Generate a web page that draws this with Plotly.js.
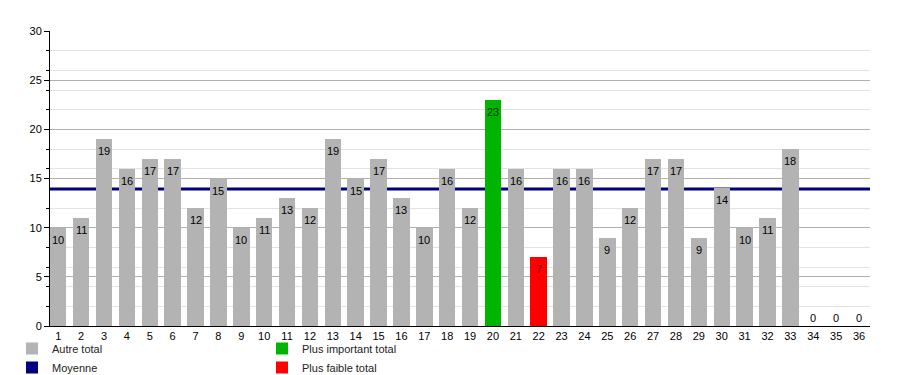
<!DOCTYPE html>
<html>
<head>
<meta charset="utf-8">
<script src="https://cdn.plot.ly/plotly-3.0.1.min.js"></script>
<style>html,body{margin:0;padding:0;background:#fff;}#chart{width:900px;height:375px;}</style>
</head>
<body>
<div id="chart"></div>
<script>
// Data
const categories = [1,2,3,4,5,6,7,8,9,10,11,12,13,14,15,16,17,18,19,20,21,22,23,24,25,26,27,28,29,30,31,32,33,34,35,36];
const totals = [10,11,19,16,17,17,12,15,10,11,13,12,19,15,17,13,10,16,12,23,16,7,16,16,9,12,17,17,9,14,10,11,18,0,0,0];
const highestCategory = [20];
const highestValue = [23];
const lowestCategory = [22];
const lowestValue = [7];
const averageValue = 13.94;
const yTickVals = [0,5,10,15,20,25,30];
const yMinorGridVals = [2,4,6,8,12,16,18,22,24,26,28];
const seriesNames = ["Autre total", "Plus important total", "Moyenne", "Plus faible total"];

const xRange = [0.64, 36.48];
const fontFam = "Liberation Sans, Arial, Helvetica, sans-serif";

const otherX = [], otherY = [];
categories.forEach((c, i) => {
  if (highestCategory.includes(c) || lowestCategory.includes(c)) return;
  otherX.push(c); otherY.push(totals[i]);
});

const barCommon = {type: "bar", width: 0.72, opacity: 1, hoverinfo: "x+y"};

const traces = [
  Object.assign({}, barCommon, {
    name: seriesNames[0], x: otherX, y: otherY,
    marker: {color: "#b3b3b3", opacity: 1, line: {width: 0}}, legend: "legend"
  }),
  Object.assign({}, barCommon, {
    name: seriesNames[2], x: [categories[0]], y: [null],
    marker: {color: "#000080", opacity: 1, line: {width: 0}}, legend: "legend", showlegend: true
  }),
  Object.assign({}, barCommon, {
    name: seriesNames[1], x: highestCategory, y: highestValue,
    marker: {color: "#00b400", opacity: 1, line: {width: 0}}, legend: "legend2"
  }),
  Object.assign({}, barCommon, {
    name: seriesNames[3], x: lowestCategory, y: lowestValue,
    marker: {color: "#ff0000", opacity: 1, line: {width: 0}}, legend: "legend2"
  })
];

// value labels, placed through the axes
const annotations = categories.map((c, i) => {
  const v = totals[i];
  let color = "#000";
  if (highestCategory.includes(c)) color = "#0a300a";
  if (lowestCategory.includes(c)) color = "#700000";
  return {
    x: c, y: v, xref: "x", yref: "y", text: String(v), showarrow: false,
    yshift: v === 0 ? 8 : -12, font: {family: fontFam, size: 11, color: color},
    xanchor: "center", yanchor: "middle"
  };
});

const layout = {
  width: 900, height: 375,
  margin: {l: 50, r: 30, t: 31, b: 49, autoexpand: false},
  paper_bgcolor: "#fff", plot_bgcolor: "#fff",
  font: {family: fontFam, size: 11, color: "#000"},
  barmode: "stack",
  xaxis: {
    range: xRange, tickmode: "array", tickvals: categories, ticktext: categories.map(String),
    showgrid: false, zeroline: false, showline: true, linecolor: "#000", linewidth: 1,
    ticks: "", tickangle: 0, tickfont: {size: 11, color: "#000"}, fixedrange: true
  },
  yaxis: {
    range: [0, 30], tickmode: "array", tickvals: yTickVals,
    showgrid: true, gridcolor: "#b0b0b0", gridwidth: 1,
    zeroline: false, showline: true, linecolor: "#000", linewidth: 1,
    ticks: "outside", ticklen: 5, tickcolor: "#000", tickfont: {size: 11, color: "#000"},
    minor: {tickmode: "array", tickvals: yMinorGridVals, showgrid: true, gridcolor: "#e3e3e3",
            ticks: "outside", ticklen: 3, tickcolor: "#000"},
    fixedrange: true
  },
  shapes: [{
    type: "line", xref: "paper", yref: "y", x0: 0, x1: 1, y0: averageValue, y1: averageValue,
    line: {color: "#000080", width: 3}, layer: "below"
  }],
  annotations: annotations,
  showlegend: true,
  legend: {
    xref: "container", yref: "container", x: 12/900, y: 1 - 334/375, xanchor: "left", yanchor: "top",
    orientation: "v", traceorder: "normal", font: {size: 11, color: "#222"}, bgcolor: "rgba(0,0,0,0)",
    tracegroupgap: 0, itemclick: false, itemdoubleclick: false
  },
  legend2: {
    xref: "container", yref: "container", x: 262/900, y: 1 - 334/375, xanchor: "left", yanchor: "top",
    orientation: "v", traceorder: "normal", font: {size: 11, color: "#222"}, bgcolor: "rgba(0,0,0,0)",
    tracegroupgap: 0, itemclick: false, itemdoubleclick: false
  }
};

Plotly.newPlot("chart", traces, layout, {displayModeBar: false, staticPlot: true});
</script>
</body>
</html>
